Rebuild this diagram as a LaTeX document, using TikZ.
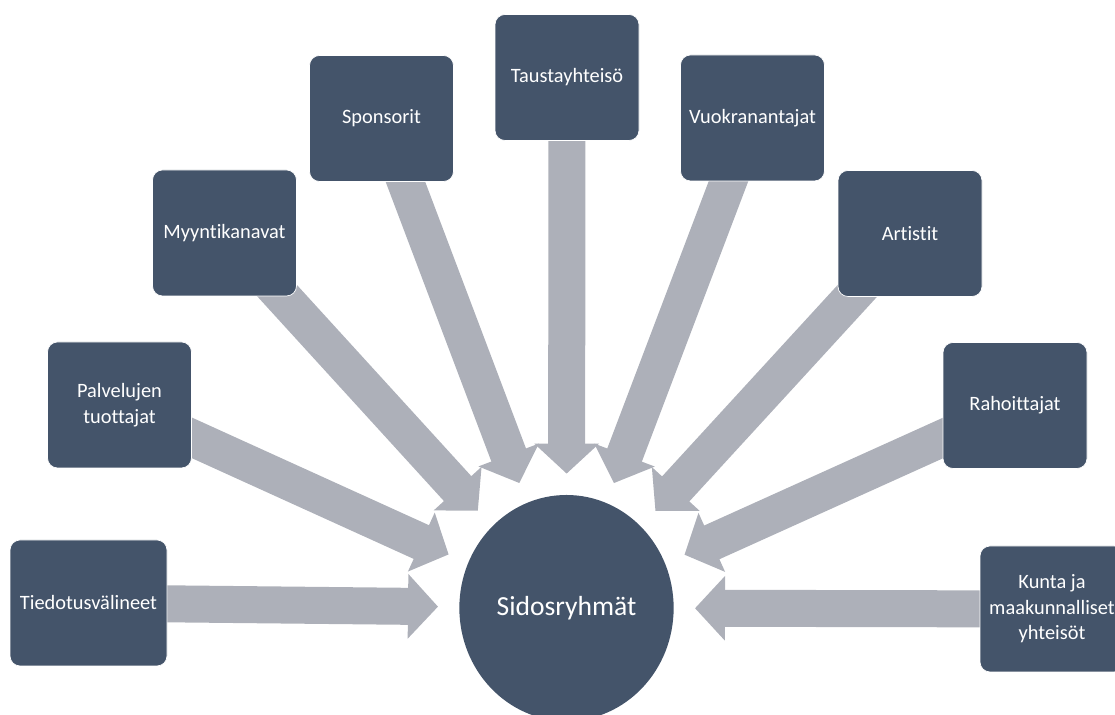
\documentclass[tikz,border=0pt]{standalone}
\usepackage{fontspec}
\setmainfont{Carlito}[Ligatures=NoCommon]
\usetikzlibrary{arrows.meta,backgrounds,shapes.geometric}

\definecolor{groupblue}{RGB}{68,84,106}
\definecolor{feedgrey}{RGB}{173,176,185}

\begin{document}
\begin{tikzpicture}[feed/.style={draw=feedgrey,line width=0.74cm,-{Triangle[length=0.6cm,width=1.26cm]},shorten >=0.42cm}]
\tikzstyle{group}=[rectangle,rounded corners=0.2cm,fill=groupblue,draw=white,thin,text=white,minimum width=2.88cm,minimum height=2.52cm,align=center,font=\fontsize{11.6}{14.5}\selectfont]
\useasboundingbox (0,0) rectangle (22.3,14.3);
\node[ellipse,fill=groupblue,text=white,minimum width=4.14cm,minimum height=4.52cm,font=\fontsize{15.7}{19}\selectfont] (sid) at (11.33,2.14) {Sidosryhmät};
\node[group,minimum width=3.14cm] (tied) at (1.77,2.24) {Tiedotusvälineet};
\node[group] (palv) at (2.39,6.20) {Palvelujen\\tuottajat};
\node[group] (myyn) at (4.49,9.64) {Myyntikanavat};
\node[group] (spon) at (7.63,11.93) {Sponsorit};
\node[group] (taus) at (11.34,12.75) {Taustayhteisö};
\node[group] (vuok) at (15.05,11.94) {Vuokranantajat};
\node[group] (arti) at (18.20,9.63) {Artistit};
\node[group] (raho) at (20.30,6.19) {Rahoittajat};
\node[group] (kunt) at (21.04,2.12) {Kunta ja\\maakunnalliset\\yhteisöt};
\begin{scope}[on background layer]
\path
(tied.center) edge[feed] (sid)
(palv.center) edge[feed] (sid)
(myyn.center) edge[feed] (sid)
(spon.center) edge[feed] (sid)
(taus.center) edge[feed] (sid)
(vuok.center) edge[feed] (sid)
(arti.center) edge[feed] (sid)
(raho.center) edge[feed] (sid)
(kunt.center) edge[feed] (sid);
\end{scope}
\end{tikzpicture}
\end{document}
